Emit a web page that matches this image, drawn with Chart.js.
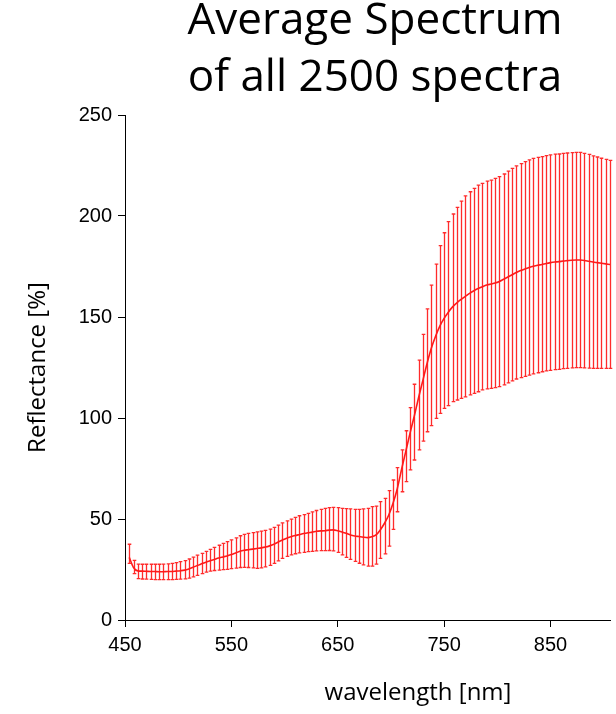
<!DOCTYPE html>
<html>
<head>
<meta charset="utf-8">
<script src="https://cdn.jsdelivr.net/npm/chart.js@4"></script>
<style>
  html, body { margin: 0; padding: 0; background: #fff; }
  #wrap { width: 616px; height: 714px; }
</style>
</head>
<body>
<div id="wrap"><canvas id="spec"></canvas></div>
<script>
// Mean spectrum with +/- spread bars (4 nm steps).
const wavelengths = [
  454, 458, 462, 466, 470, 474, 478, 482, 486, 490,
  494, 498, 502, 506, 510, 514, 518, 522, 526, 530,
  534, 538, 542, 546, 550, 554, 558, 562, 566, 570,
  574, 578, 582, 586, 590, 594, 598, 602, 606, 610,
  614, 618, 622, 626, 630, 634, 638, 642, 646, 650,
  654, 658, 662, 666, 670, 674, 678, 682, 686, 690,
  694, 698, 702, 706, 710, 714, 718, 722, 726, 730,
  734, 738, 742, 746, 750, 754, 758, 762, 766, 770,
  774, 778, 782, 786, 790, 794, 798, 802, 806, 810,
  814, 818, 822, 826, 830, 834, 838, 842, 846, 850,
  854, 858, 862, 866, 870, 874, 878, 882, 886, 890,
  894, 898, 902, 906
];
const meanRefl = [
  31.0, 26.0, 24.3, 24.2, 24.1, 24.0, 24.0, 23.9, 23.9, 24.0,
  24.0, 24.2, 24.4, 24.7, 25.3, 26.1, 27.0, 27.8, 28.6, 29.3,
  30.0, 30.7, 31.2, 31.7, 32.4, 33.2, 34.0, 34.5, 34.8, 35.1,
  35.4, 35.7, 36.1, 36.7, 37.5, 38.6, 39.6, 40.5, 41.2, 41.8,
  42.3, 42.8, 43.2, 43.5, 43.9, 44.1, 44.2, 44.5, 44.6, 44.2,
  43.6, 42.9, 42.1, 41.6, 41.3, 41.0, 40.8, 41.2, 42.1, 44.6,
  47.9, 52.0, 57.8, 65.0, 74.5, 83.5, 92.5, 101.0, 110.0, 118.5,
  127.0, 134.5, 140.5, 145.5, 149.3, 152.4, 155.0, 157.0, 158.7, 160.2,
  161.7, 163.0, 164.1, 165.0, 165.8, 166.3, 166.8, 167.6, 168.7, 169.8,
  170.9, 172.0, 173.0, 173.8, 174.5, 175.1, 175.6, 176.0, 176.5, 176.9,
  177.2, 177.4, 177.7, 177.9, 178.1, 178.2, 178.2, 178.0, 177.6, 177.2,
  176.9, 176.6, 176.3, 176.0
];
const upperRefl = [
  37.5, 29.5, 27.7, 27.6, 27.6, 27.6, 27.6, 27.6, 27.7, 27.8,
  28.0, 28.4, 28.9, 29.4, 30.2, 31.1, 32.1, 33.0, 34.0, 35.0,
  36.0, 37.0, 37.9, 38.8, 39.7, 40.7, 41.7, 42.4, 42.9, 43.3,
  43.6, 44.0, 44.4, 45.0, 45.9, 47.0, 48.1, 49.1, 49.9, 50.8,
  51.6, 52.2, 52.8, 53.5, 54.2, 54.8, 55.3, 55.6, 55.8, 55.6,
  55.3, 55.1, 55.0, 54.8, 54.8, 55.0, 55.3, 56.1, 56.4, 58.6,
  60.2, 64.0, 69.3, 75.4, 84.2, 93.7, 105.1, 116.7, 128.7, 141.4,
  154.0, 165.8, 176.2, 185.3, 191.7, 197.2, 201.0, 204.3, 207.4, 210.0,
  212.0, 213.7, 215.3, 216.2, 217.3, 217.8, 218.6, 219.5, 220.8, 222.2,
  223.6, 224.8, 225.9, 226.9, 227.8, 228.5, 229.0, 229.4, 229.9, 230.3,
  230.6, 230.7, 231.0, 231.2, 231.4, 231.5, 231.5, 231.0, 230.5, 229.8,
  229.2, 228.6, 228.0, 227.5
];
const lowerRefl = [
  28.0, 23.0, 20.5, 20.3, 20.2, 20.1, 20.0, 20.0, 20.0, 20.0,
  20.0, 20.1, 20.2, 20.4, 20.7, 21.3, 22.1, 23.0, 23.7, 24.2,
  24.5, 24.7, 24.9, 25.1, 25.4, 25.7, 26.0, 26.1, 26.0, 25.8,
  25.6, 25.8, 26.3, 27.0, 28.0, 29.3, 30.5, 31.5, 32.2, 32.8,
  33.2, 33.5, 33.8, 34.0, 34.2, 34.3, 34.3, 34.4, 34.2, 33.5,
  32.2, 31.0, 30.0, 29.0, 28.1, 27.3, 26.7, 26.7, 27.7, 30.5,
  32.7, 36.6, 44.9, 53.6, 63.5, 68.5, 74.3, 79.2, 84.2, 88.6,
  93.2, 96.2, 99.8, 102.3, 104.8, 106.1, 108.1, 108.9, 109.7, 110.5,
  111.4, 112.2, 113.0, 113.9, 114.4, 114.7, 115.0, 115.5, 116.4, 117.4,
  118.4, 119.3, 120.0, 120.6, 121.2, 121.8, 122.4, 122.9, 123.3, 123.6,
  123.9, 124.1, 124.4, 124.6, 124.8, 124.9, 124.9, 124.8, 124.7, 124.6,
  124.6, 124.6, 124.6, 124.6
];
const xTicks = [450, 550, 650, 750, 850];
const titleLines = ['Average Spectrum', 'of all 2500 spectra'];
const xTitle = 'wavelength [nm]';
const yTitle = 'Reflectance [%]';

const RED = '#ff1a1a';
const tickFont = { family: '"Liberation Sans", Arial, sans-serif', size: 20 };

// vertical spread bars with small caps, drawn under the mean line
const errorBars = {
  id: 'errorBars',
  beforeDatasetsDraw(chart) {
    const { ctx, scales: { x, y } } = chart;
    ctx.save();
    ctx.strokeStyle = 'rgba(255,20,20,0.9)';
    ctx.lineWidth = 1.3;
    wavelengths.forEach((wl, i) => {
      const px = Math.round(x.getPixelForValue(wl)) + 0.5;
      const top = y.getPixelForValue(upperRefl[i]);
      const bot = y.getPixelForValue(lowerRefl[i]);
      ctx.beginPath();
      ctx.moveTo(px, top); ctx.lineTo(px, bot);
      ctx.moveTo(px - 1.8, top); ctx.lineTo(px + 1.8, top);
      ctx.moveTo(px - 1.8, bot); ctx.lineTo(px + 1.8, bot);
      ctx.stroke();
    });
    ctx.restore();
  }
};

// heading and x title sit off-centre in the source, so place them by hand
const texts = {
  id: 'texts',
  afterDraw(chart) {
    const { ctx } = chart;
    ctx.save();
    ctx.fillStyle = '#000';
    ctx.textAlign = 'center';
    ctx.textBaseline = 'alphabetic';
    ctx.font = '44px "Open Sans", sans-serif';
    ctx.fillText(titleLines[0], 375, 34);
    ctx.fillText(titleLines[1], 375, 91);
    ctx.font = '24px "Open Sans", sans-serif';
    ctx.fillText(xTitle, 418, 700);
    ctx.restore();
  }
};

new Chart(document.getElementById('spec'), {
  type: 'line',
  data: {
    datasets: [{
      data: wavelengths.map((wl, i) => ({ x: wl, y: meanRefl[i] })),
      borderColor: RED,
      borderWidth: 1.6,
      pointRadius: 0,
      cubicInterpolationMode: 'monotone',
      fill: false,
    }],
  },
  options: {
    responsive: true,
    maintainAspectRatio: false,
    animation: false,
    layout: { padding: { top: 115, right: 6, left: 24, bottom: 0 } },
    plugins: { legend: { display: false }, tooltip: { enabled: false } },
    scales: {
      x: {
        type: 'linear',
        min: 450,
        max: 906,
        afterBuildTicks: s => { s.ticks = xTicks.map(v => ({ value: v })); },
        afterFit: s => { s.height = 94; },
        grid: { drawOnChartArea: false, drawTicks: true, tickLength: 7, color: '#000' },
        border: { color: '#000', width: 1 },
        ticks: { color: '#000', font: tickFont, padding: 6, maxRotation: 0 },
      },
      y: {
        min: 0,
        max: 250,
        afterFit: s => { s.width = 101; },
        grid: { drawOnChartArea: false, drawTicks: true, tickLength: 7, color: '#000' },
        border: { color: '#000', width: 1 },
        ticks: { color: '#000', font: tickFont, stepSize: 50, padding: 6 },
        title: {
          display: true,
          text: yTitle,
          color: '#000',
          font: { family: '"Open Sans", sans-serif', size: 24 },
          padding: 0,
        },
      },
    },
  },
  plugins: [errorBars, texts],
});
</script>
</body>
</html>
